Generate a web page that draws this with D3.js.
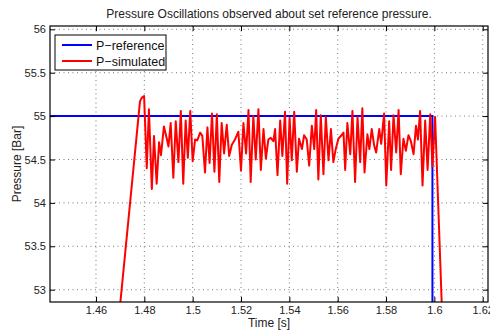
<!DOCTYPE html>
<html><head><meta charset="utf-8">
<script src="https://cdn.jsdelivr.net/npm/d3@7"></script>
<style>body{margin:0;background:#fff}svg{display:block}text{font-family:"Liberation Sans",Arial,sans-serif}</style>
</head><body>
<svg id="c" width="490" height="336"></svg>
<script>
const title = "Pressure Oscillations observed about set reference pressure.";
const xLabel = "Time [s]";
const yLabel = "Pressure [Bar]";
const xTicks = [1.46,1.48,1.5,1.52,1.54,1.56,1.58,1.6,1.62];
const yTicks = [53,53.5,54,54.5,55,55.5,56];
const xDomain = [1.44097,1.62219];
const yDomain = [52.858,56.038];
const legendNames = ["P\u2212reference","P\u2212simulated"];
const refTime = [1.44, 1.5992, 1.5992];
const refPressure = [55, 55, 52.5];
const simTime = [1.4700,1.4782,1.4789,1.4799,1.4810,1.4819,1.4831,1.4840,1.4851,1.4861,1.4869,1.4881,1.4892,1.4900,1.4909,1.4920,1.4930,1.4941,1.4951,1.4961,1.4971,1.4980,1.4990,1.5000,1.5010,1.5019,1.5031,1.5040,1.5051,1.5061,1.5070,1.5080,1.5090,1.5100,1.5110,1.5120,1.5130,1.5141,1.5151,1.5162,1.5175,1.5189,1.5200,1.5210,1.5221,1.5231,1.5240,1.5251,1.5261,1.5272,1.5282,1.5293,1.5303,1.5313,1.5323,1.5334,1.5341,1.5351,1.5362,1.5371,1.5382,1.5391,1.5401,1.5410,1.5420,1.5431,1.5440,1.5452,1.5461,1.5472,1.5482,1.5493,1.5503,1.5511,1.5520,1.5530,1.5541,1.5551,1.5562,1.5572,1.5582,1.5592,1.5603,1.5613,1.5624,1.5631,1.5640,1.5652,1.5661,1.5672,1.5682,1.5693,1.5702,1.5711,1.5723,1.5731,1.5741,1.5751,1.5759,1.5772,1.5780,1.5792,1.5801,1.5813,1.5821,1.5831,1.5842,1.5852,1.5861,1.5872,1.5882,1.5893,1.5903,1.5914,1.5924,1.5932,1.5941,1.5951,1.5962,1.5972,1.5983,1.5992,1.6003,1.6031];
const simPressure = [52.83,55.17,55.21,55.23,54.40,55.08,54.16,54.77,54.22,54.70,54.55,54.88,54.75,54.65,54.92,54.29,54.94,54.47,55.06,54.22,54.95,54.52,55.06,54.48,54.73,54.72,54.81,54.77,54.35,54.87,54.46,55.03,54.36,55.02,54.24,54.92,54.57,54.90,54.54,54.67,54.73,54.82,54.37,54.92,54.57,55.07,54.24,55.00,54.50,55.08,54.38,54.85,54.51,54.73,54.75,54.71,54.85,54.32,54.95,54.54,55.05,54.22,54.98,54.49,55.05,54.36,54.74,54.62,54.78,54.73,54.43,54.89,54.62,55.07,54.27,55.01,54.33,54.99,54.49,54.85,54.47,54.62,54.74,54.77,54.81,54.38,54.92,54.56,55.06,54.24,54.99,54.47,55.09,54.35,54.79,54.62,54.85,54.66,54.58,54.85,54.68,55.03,54.20,54.94,54.38,55.01,54.58,55.07,54.33,54.74,54.60,54.78,54.71,54.56,54.89,54.73,55.06,54.20,54.95,54.38,55.02,54.42,54.99,52.80];

const W = 490, H = 336;
const m = {left:50, right:2, top:26, bottom:34};
const iw = W - m.left - m.right, ih = H - m.top - m.bottom;
const svg = d3.select("#c");
const g = svg.append("g").attr("transform",`translate(${m.left},${m.top})`);
const x = d3.scaleLinear().domain(xDomain).range([0,iw]);
const y = d3.scaleLinear().domain(yDomain).range([ih,0]);
const fmt = d => String(+d.toFixed(2));

// grid
const grid = g.append("g").attr("stroke","#555").attr("stroke-width",0.8).attr("stroke-dasharray","1,3.5");
xTicks.forEach(t=>grid.append("line").attr("x1",x(t)).attr("x2",x(t)).attr("y1",0).attr("y2",ih));
yTicks.forEach(t=>grid.append("line").attr("y1",y(t)).attr("y2",y(t)).attr("x1",0).attr("x2",iw));

svg.append("clipPath").attr("id","clip").append("rect").attr("width",iw).attr("height",ih);
const plot = g.append("g").attr("clip-path","url(#clip)");
const line = d3.line().x(d=>x(d[0])).y(d=>y(d[1]));
plot.append("path").datum(refTime.map((t,i)=>[t,refPressure[i]])).attr("d",line)
  .attr("fill","none").attr("stroke","#0000ff").attr("stroke-width",2);
plot.append("path").datum(simTime.map((t,i)=>[t,simPressure[i]])).attr("d",line)
  .attr("fill","none").attr("stroke","#ff0000").attr("stroke-width",2).attr("stroke-linejoin","round");

// axes
const tl = 5;
const axB = g.append("g").attr("transform",`translate(0,${ih})`).call(d3.axisBottom(x).tickValues(xTicks).tickFormat(fmt).tickSizeInner(-tl).tickSizeOuter(0).tickPadding(4));
const axT = g.append("g").call(d3.axisTop(x).tickValues(xTicks).tickFormat("").tickSizeInner(-tl).tickSizeOuter(0));
const axL = g.append("g").call(d3.axisLeft(y).tickValues(yTicks).tickFormat(fmt).tickSizeInner(-tl).tickSizeOuter(0).tickPadding(4));
const axR = g.append("g").attr("transform",`translate(${iw},0)`).call(d3.axisRight(y).tickValues(yTicks).tickFormat("").tickSizeInner(-tl).tickSizeOuter(0));
[axB,axT,axL,axR].forEach(a=>{
  a.selectAll(".domain").remove();
  a.selectAll("line").attr("stroke","#000").attr("stroke-width",1);
  a.selectAll("text").attr("font-size",11).attr("fill","#222").attr("font-family","Liberation Sans, Arial, sans-serif");
});
g.append("rect").attr("width",iw).attr("height",ih).attr("fill","none").attr("stroke","#000").attr("stroke-width",1.2);

svg.append("text").attr("x",m.left+iw/2).attr("y",18).attr("text-anchor","middle").attr("font-size",12).attr("fill","#222").text(title);
svg.append("text").attr("x",m.left+iw/2).attr("y",327).attr("text-anchor","middle").attr("font-size",12).attr("fill","#222").text(xLabel);
svg.append("text").attr("transform",`translate(21,${m.top+ih/2}) rotate(-90)`).attr("text-anchor","middle").attr("font-size",12).attr("fill","#222").text(yLabel);

// legend
const lg = svg.append("g").attr("transform","translate(55,35)");
lg.append("rect").attr("width",111).attr("height",35).attr("fill","#fff").attr("stroke","#000").attr("stroke-width",1);
const colors = ["#0000ff","#ff0000"];
legendNames.forEach((n,i)=>{
  const yy = 10 + i*16;
  lg.append("line").attr("x1",7).attr("x2",37).attr("y1",yy).attr("y2",yy).attr("stroke",colors[i]).attr("stroke-width",2);
  lg.append("text").attr("x",41).attr("y",yy+4.5).attr("font-size",12.5).attr("fill","#111").text(n);
});
</script>
</body></html>
